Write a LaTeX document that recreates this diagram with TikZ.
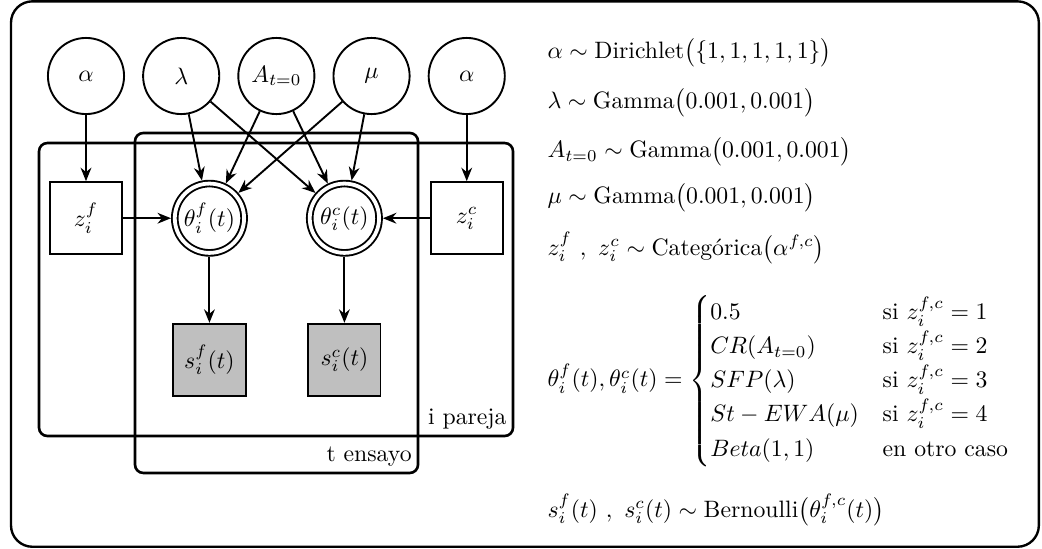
\documentclass[tikz,border=0pt]{standalone}
\usepackage{amsmath,mathtools}
\usepackage{xcolor}
\usepackage{tikz}
\usetikzlibrary{arrows.meta,positioning}

\begin{document}
\begin{tikzpicture}[
  param/.style={draw, circle, thick, minimum size=11.28mm, inner sep=0pt},
  choice/.style={draw, rectangle, thick, minimum size=10.7mm, inner sep=0pt},
  latent/.style={draw, circle, line width=.8pt, double, double distance=1.6pt, minimum size=10.27mm, inner sep=0pt, outer sep=1.6pt},
  observed/.style={draw, rectangle, thick, fill=gray!50, minimum size=10.7mm, inner sep=0pt},
  arrow/.style={-{Stealth[length=2mm, width=1.6mm]}, thick},
  plate/.style={line width=1.1pt, rounded corners=3.5pt},
  platelabel/.style={inner sep=2.5pt},
  eq/.style={anchor=west, inner sep=0pt}
]
  \useasboundingbox (0,0) rectangle (15.437,-8.133);
  \draw[line width=1pt, rounded corners=9pt] (0.163,-0.02) rectangle (15.39,-8.10);

  % hyperparameters
  \node[param] (alphaF) at (1.274,-1.126) {$\alpha$};
  \node[param, right=2.54mm of alphaF] (lambda) {$\lambda$};
  \node[param, right=2.54mm of lambda] (azero) {$A_{t=0}$};
  \node[param, right=2.54mm of azero] (mu) {$\mu$};
  \node[param, right=2.54mm of mu] (alphaC) {$\alpha$};

  % model choice and probabilities
  \node[choice, below=9.8mm of alphaF] (zf) {$z_i^f$};
  \node[latent, right=7.1mm of zf] (thetaf) {$\theta_i^f(t)$};
  \node[latent, right=8.6mm of thetaf] (thetac) {$\theta_i^c(t)$};
  \node[choice, below=9.8mm of alphaC] (zc) {$z_i^c$};

  % observed choices
  \node[observed, below=9.8mm of thetaf] (sf) {$s_i^f(t)$};
  \node[observed, below=9.8mm of thetac] (sc) {$s_i^c(t)$};

  % plates
  \draw[plate] (0.578,-2.119) rectangle (7.60,-6.459);
  \node[platelabel, anchor=south east] (pareja) at (7.60,-6.459) {i pareja};
  \draw[plate] (2.0,-1.97) rectangle (6.193,-7.007);
  \node[platelabel, anchor=south east] (ensayo) at (6.193,-7.007) {t ensayo};

  \draw[arrow] (alphaF) -- (zf);
  \draw[arrow] (alphaC) -- (zc);
  \draw[arrow] (zf) -- (thetaf);
  \draw[arrow] (zc) -- (thetac);
  \draw[arrow] (lambda) -- (thetaf);
  \draw[arrow] (lambda) -- (thetac);
  \draw[arrow] (azero) -- (thetaf);
  \draw[arrow] (azero) -- (thetac);
  \draw[arrow] (mu) -- (thetaf);
  \draw[arrow] (mu) -- (thetac);
  \draw[arrow] (thetaf) -- (sf);
  \draw[arrow] (thetac) -- (sc);

  % priors
  \node[eq] (eqalpha) at (8.104,-0.785) {$\alpha \sim \text{Dirichlet}\big(\{1,1,1,1,1\}\big)$};
  \node[eq] (eqlambda) at (8.104,-1.526) {$\lambda \sim \text{Gamma}\big(0.001,0.001\big)$};
  \node[eq] (eqazero) at (8.104,-2.252) {$A_{t=0} \sim \text{Gamma}\big(0.001,0.001\big)$};
  \node[eq] (eqmu) at (8.104,-2.933) {$\mu \sim \text{Gamma}\big(0.001,0.001\big)$};
  \node[eq] (eqz) at (8.104,-3.674) {$z_i^f\ ,\ z_i^c \sim \text{Categórica}\big(\alpha^{f,c}\big)$};
  \node[eq] (eqtheta) at (8.104,-5.644) {$\theta_i^f(t),\theta_i^c(t) = \begin{cases}
      0.5 & \text{si } z_i^{f,c}=1\\
      CR(A_{t=0}) & \text{si } z_i^{f,c}=2\\
      SFP(\lambda) & \text{si } z_i^{f,c}=3\\
      St-EWA(\mu) & \text{si } z_i^{f,c}=4\\
      Beta(1,1) & \text{en otro caso}
    \end{cases}$};
  \node[eq] (eqs) at (8.104,-7.556) {$s_i^f(t)\ ,\ s_i^c(t) \sim \text{Bernoulli}\big(\theta_i^{f,c}(t)\big)$};
\end{tikzpicture}
\end{document}
